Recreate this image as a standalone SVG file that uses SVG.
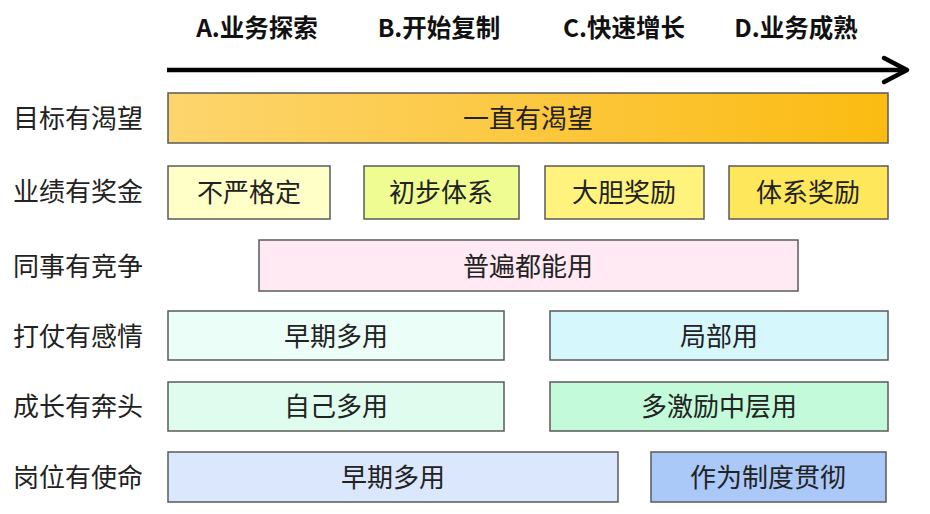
<svg xmlns="http://www.w3.org/2000/svg" width="930" height="514" viewBox="0 0 930 514">
<defs>
<linearGradient id="g1" x1="0" y1="0" x2="1" y2="0">
<stop offset="0" stop-color="#FDD56E"/>
<stop offset="1" stop-color="#FBBB12"/>
</linearGradient>
</defs>
<style>
.hd{font-family:"Noto Sans CJK SC","Liberation Sans",sans-serif;font-weight:bold;font-size:24.5px;fill:#111;text-anchor:middle;dominant-baseline:central}
.rl{font-family:"Noto Sans CJK SC",sans-serif;font-size:26px;fill:#222;text-anchor:start;dominant-baseline:central}
.bx{stroke:#5a5a5a;stroke-width:1.5}
.bt{font-family:"Noto Sans CJK SC",sans-serif;font-size:26px;fill:#222;text-anchor:middle;dominant-baseline:central}
</style>
<g id="headers">
<text class="hd" x="257" y="26">A.业务探索</text>
<text class="hd" x="439" y="26">B.开始复制</text>
<text class="hd" x="624" y="26">C.快速增长</text>
<text class="hd" x="796" y="26">D.业务成熟</text>
</g>
<g id="connectors">
<line x1="167" y1="70" x2="905" y2="70" stroke="#000" stroke-width="4.5"/>
<path d="M884,58 L907,70 L884,82" fill="none" stroke="#000" stroke-width="4.5" stroke-linecap="round" stroke-linejoin="round"/>
</g>
<g id="row-labels">
<text class="rl" x="13" y="116">目标有渴望</text>
<text class="rl" x="13" y="189">业绩有奖金</text>
<text class="rl" x="13" y="264">同事有竞争</text>
<text class="rl" x="13" y="334">打仗有感情</text>
<text class="rl" x="13" y="404">成长有奔头</text>
<text class="rl" x="13" y="475">岗位有使命</text>
</g>
<g id="n1"><rect class="bx" x="168" y="93" width="720" height="50" fill="url(#g1)"/><text class="bt" x="528" y="116">一直有渴望</text></g>
<g id="n2"><rect class="bx" x="168" y="166" width="162" height="53" fill="#FFFFC8"/><text class="bt" x="249" y="190">不严格定</text></g>
<g id="n3"><rect class="bx" x="364" y="166" width="155" height="53" fill="#EEFC92"/><text class="bt" x="441" y="190">初步体系</text></g>
<g id="n4"><rect class="bx" x="545" y="166" width="159" height="53" fill="#FFF37E"/><text class="bt" x="624" y="190">大胆奖励</text></g>
<g id="n5"><rect class="bx" x="729" y="166" width="159" height="53" fill="#FFE75C"/><text class="bt" x="808" y="190">体系奖励</text></g>
<g id="n6"><rect class="bx" x="259" y="240" width="539" height="51" fill="#FFE9F3"/><text class="bt" x="528" y="264">普遍都能用</text></g>
<g id="n7"><rect class="bx" x="168" y="311" width="336" height="49" fill="#EBFEF8"/><text class="bt" x="336" y="334">早期多用</text></g>
<g id="n8"><rect class="bx" x="550" y="311" width="338" height="49" fill="#D6F7FC"/><text class="bt" x="719" y="334">局部用</text></g>
<g id="n9"><rect class="bx" x="168" y="382" width="336" height="49" fill="#DFFCEE"/><text class="bt" x="336" y="404">自己多用</text></g>
<g id="n10"><rect class="bx" x="550" y="382" width="338" height="49" fill="#C3FAD9"/><text class="bt" x="719" y="404">多激励中层用</text></g>
<g id="n11"><rect class="bx" x="168" y="452" width="450" height="50" fill="#DAE7FC"/><text class="bt" x="393" y="475">早期多用</text></g>
<g id="n12"><rect class="bx" x="651" y="452" width="235" height="50" fill="#AAC8F8"/><text class="bt" x="768" y="475">作为制度贯彻</text></g>
</svg>
